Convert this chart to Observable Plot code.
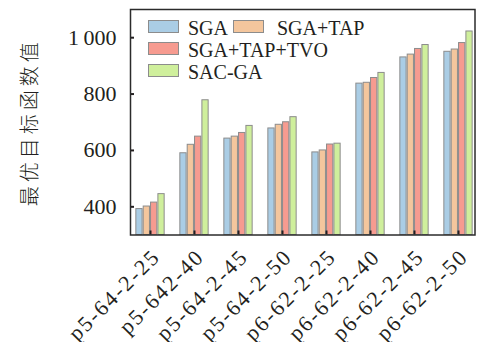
<!DOCTYPE html>
<html>
<head>
<meta charset="utf-8">
<script src="https://cdn.jsdelivr.net/npm/d3@7"></script>
<script src="https://cdn.jsdelivr.net/npm/@observablehq/plot@0.6"></script>
<style>
  html, body { margin: 0; padding: 0; background: #fff; }
  #wrap { position: relative; width: 478px; height: 342px; overflow: hidden; }
  #legend { position: absolute; left: 0; top: 0; font-family: "Liberation Serif", serif; font-size: 20px; color: #231f20; }
  .sw { position: absolute; width: 29px; height: 11px; border: 1px solid #8c8c8c; }
  .lb { position: absolute; line-height: 1; white-space: nowrap; }
  svg [aria-label="y-axis label"] text { letter-spacing: 4px; font-family: "Noto Sans CJK SC", sans-serif; font-size: 20px; font-weight: 300; }
  svg .xlab text { letter-spacing: 2px; }
</style>
</head>
<body>
<div id="wrap"></div>
<script>
const categories = ["p5-64-2-25", "p5-642-40", "p5-64-2-45", "p5-64-2-50", "p6-62-2-25", "p6-62-2-40", "p6-62-2-45", "p6-62-2-50"];
const seriesNames = ["SGA", "SGA+TAP", "SGA+TAP+TVO", "SAC-GA"];
const sgaValues = [392, 590, 642, 678, 593, 837, 930, 950];
const sgaTapValues = [401, 620, 649, 691, 600, 840, 940, 958];
const sgaTapTvoValues = [415, 649, 662, 700, 621, 857, 960, 981];
const sacGaValues = [445, 778, 687, 718, 624, 875, 974, 1022];
const yTicks = [400, 600, 800, 1000];
const yDomain = [300, 1100];
const colors = ["#aacde5", "#f4c69d", "#f69b90", "#cfef9c"];

const seriesValues = [sgaValues, sgaTapValues, sgaTapTvoValues, sacGaValues];

const band = 44.1, barW = 7.35;
const pad = (band - 4 * barW) / 2;

const barMarks = seriesValues.map((vals, i) => {
  const rows = categories.map((c, j) => ({cat: c, value: vals[j]}));
  return Plot.barY(rows, {
    x: "cat", y1: () => yDomain[0], y2: "value",
    fill: colors[i], stroke: "#8c8c8c", strokeWidth: 1,
    insetLeft: pad + i * barW + 0.5, insetRight: band - pad - (i + 1) * barW + 0.5
  });
});

const fmt = d => d3.format(",")(d).replace(",", "\u2009");

const chart = Plot.plot({
  width: 478, height: 342,
  marginLeft: 130, marginRight: 3.5, marginTop: 9, marginBottom: 107.5,
  style: {fontFamily: "Liberation Serif, serif", fontSize: "22px", color: "#231f20", background: "#fff"},
  x: {domain: categories, range: [128, 128 + 8 * band], padding: 0},
  y: {domain: yDomain},
  marks: [
    ...barMarks,
    Plot.axisY(yTicks, {tickSize: 0, tickPadding: 14, tickFormat: fmt, label: "最优目标函数值", labelAnchor: "center", labelArrow: "none", labelOffset: 108}),
    Plot.axisY(yTicks, {tickSize: -4, tickFormat: () => "", label: null, strokeWidth: 2}),
    Plot.axisX({tickSize: -4, tickFormat: () => "", label: null, strokeWidth: 2}),
    Plot.text(categories, {x: d => d, frameAnchor: "bottom", rotate: -45, textAnchor: "end", lineAnchor: "middle", dx: 6, dy: 18, fontSize: 22, fill: "#231f20", className: "xlab"}),
    Plot.frame({stroke: "#2b2b2b", strokeWidth: 1.5})
  ]
});

const wrap = document.getElementById("wrap");
wrap.appendChild(chart);

// legend
const legend = document.createElement("div");
legend.id = "legend";
const items = [
  {name: seriesNames[0], color: colors[0], bx: 148, by: 20, tx: 188},
  {name: seriesNames[1], color: colors[1], bx: 233, by: 20, tx: 277},
  {name: seriesNames[2], color: colors[2], bx: 148, by: 42, tx: 188},
  {name: seriesNames[3], color: colors[3], bx: 148, by: 64, tx: 188}
];
for (const it of items) {
  const sw = document.createElement("div");
  sw.className = "sw";
  sw.style.left = it.bx + "px"; sw.style.top = it.by + "px"; sw.style.background = it.color;
  legend.appendChild(sw);
  const lb = document.createElement("div");
  lb.className = "lb";
  lb.textContent = it.name;
  lb.style.left = it.tx + "px"; lb.style.top = (it.by - 2) + "px";
  legend.appendChild(lb);
}
wrap.appendChild(legend);
</script>
</body>
</html>
